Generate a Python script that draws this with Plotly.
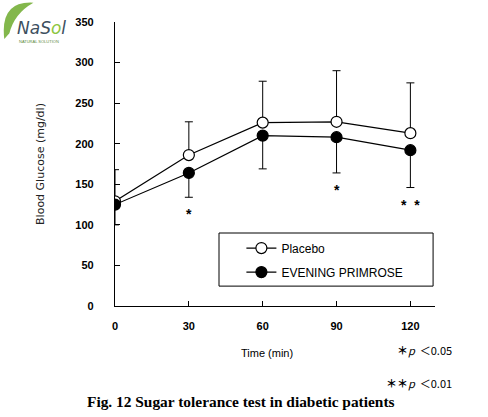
import plotly.graph_objects as go

time_min = [0, 30, 60, 90, 120]
placebo = [129, 186, 226, 227, 213]
placebo_sd = [39, 41, 51, 63, 62]
primrose = [125, 164, 210, 208, 192]
primrose_sd = [25, 30, 41, 44, 46]
sig_times = [30, 90, 120]
sig_marks = ["*", "*", "*  *"]
x_ticks = [0, 30, 60, 90, 120]
y_ticks = [0, 50, 100, 150, 200, 250, 300, 350]

FONT = "Liberation Sans, Arial, sans-serif"
CJK = "Noto Sans CJK JP, sans-serif"

fig = go.Figure()
fig.add_trace(go.Scatter(
    x=time_min, y=placebo, name="Placebo", mode="lines+markers",
    line=dict(color="black", width=1.2),
    marker=dict(symbol="circle", size=11, color="white", line=dict(color="black", width=1.2)),
    error_y=dict(type="data", array=placebo_sd, arrayminus=[0]*len(placebo_sd),
                 symmetric=False, color="black", thickness=1, width=4),
    legendgroup="a",
))
fig.add_trace(go.Scatter(
    x=time_min, y=primrose, name="EVENING PRIMROSE", mode="lines+markers",
    line=dict(color="black", width=1.2),
    marker=dict(symbol="circle", size=11, color="black", line=dict(color="black", width=1.2)),
    error_y=dict(type="data", array=[0]*len(primrose_sd), arrayminus=primrose_sd,
                 symmetric=False, color="black", thickness=1, width=4),
    legendgroup="b",
))

for t, m in zip(sig_times, sig_marks):
    i = time_min.index(t)
    fig.add_annotation(x=t, y=primrose[i] - primrose_sd[i] - 21, text="<b>" + m + "</b>", showarrow=False,
                       font=dict(family=FONT, size=14, color="black"), xref="x", yref="y")

# legend frame
fig.add_shape(type="rect", xref="paper", yref="paper", x0=0.325, x1=0.994, y0=0.070, y1=0.257,
              line=dict(color="black", width=1), fillcolor="white", layer="below")

# x axis title (slightly off-centre as in the reference)
fig.add_annotation(xref="paper", yref="paper", x=0.475, y=-0.165, xanchor="center", yanchor="middle",
                   text="Time (min)", showarrow=False,
                   font=dict(family=FONT, size=11, color="black"))
# p-value notes
fig.add_annotation(xref="paper", yref="paper", x=1.06, y=-0.155, xanchor="right", yanchor="middle",
                   text="<b>＊</b><i>p</i>  ＜0.05", showarrow=False,
                   font=dict(family=CJK, size=11, color="black"))
fig.add_annotation(xref="paper", yref="paper", x=1.06, y=-0.27, xanchor="right", yanchor="middle",
                   text="<b>＊＊</b><i>p</i>  ＜0.01", showarrow=False,
                   font=dict(family=CJK, size=11, color="black"))
# caption
fig.add_annotation(xref="paper", yref="paper", x=-0.095, y=-0.335, xanchor="left", yanchor="middle",
                   text="<b>Fig. 12 Sugar tolerance test in diabetic patients</b>", showarrow=False,
                   font=dict(family="Liberation Serif, Times New Roman, serif", size=15.4, color="black"))
# logo watermark
fig.add_shape(type="path", xref="paper", yref="paper",
              path="M -0.346 0.94 Q -0.36 1.075 -0.255 1.068 Q -0.315 1.03 -0.33 0.96 Z",
              fillcolor="#7cb342", line=dict(width=0), opacity=0.95)
fig.add_annotation(xref="paper", yref="paper", x=-0.312, y=0.98, xanchor="left", yanchor="middle",
                   text="<i>NaS<span style='color:#8cc63f'>o</span>l</i>",
                   showarrow=False,
                   font=dict(family="DejaVu Sans, sans-serif", size=17, color="#3d4f5f"))
fig.add_annotation(xref="paper", yref="paper", x=-0.305, y=0.93, xanchor="left", yanchor="middle",
                   text="NATURAL SOLUTION", showarrow=False,
                   font=dict(family=FONT, size=4, color="#5a8a3a"))

fig.update_layout(
    width=488, height=417,
    margin=dict(l=115, r=53, t=22, b=111),
    paper_bgcolor="white", plot_bgcolor="white",
    showlegend=True,
    legend=dict(x=0.395, y=0.255, xanchor="left", yanchor="top",
                bgcolor="rgba(0,0,0,0)", borderwidth=0,
                font=dict(family=FONT, size=12, color="black"),
                tracegroupgap=5, traceorder="grouped", itemwidth=30),
    xaxis=dict(range=[0, 130], tickvals=x_ticks, ticks="inside", ticklen=5, tickcolor="black",
               showline=True, linecolor="black", linewidth=1.2, showgrid=False, zeroline=False,
               ticklabelstandoff=10,
               tickfont=dict(family=FONT, size=11, color="black", weight="bold")),
    yaxis=dict(range=[0, 350], tickvals=y_ticks, ticks="inside", ticklen=5, tickcolor="black",
               showline=True, linecolor="black", linewidth=1.2, showgrid=False, zeroline=False,
               ticklabelstandoff=18,
               tickfont=dict(family=FONT, size=11, color="black", weight="bold"),
               title=dict(text="Blood Glucose (mg/dl)", font=dict(family="DejaVu Sans, sans-serif", size=11, color="#222"), standoff=28)),
)

fig.write_html("out.html", config={"displayModeBar": False},
               post_script="document.body.style.margin='0';")
